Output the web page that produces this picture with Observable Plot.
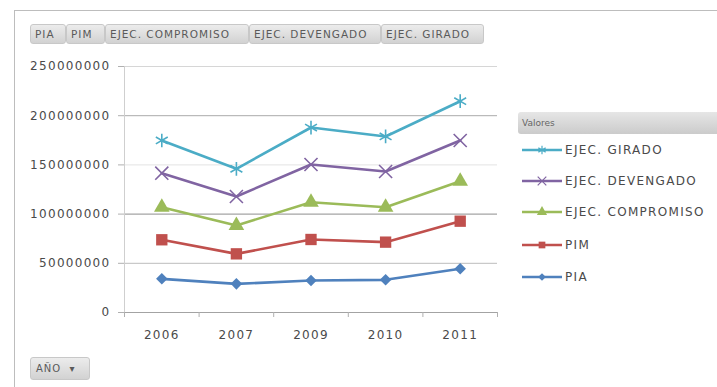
<!DOCTYPE html>
<html><head><meta charset="utf-8">
<script src="https://cdn.jsdelivr.net/npm/d3@7"></script>
<script src="https://cdn.jsdelivr.net/npm/@observablehq/plot@0.6"></script>
<style>
body{margin:0;background:#fff;}
#wrap{position:relative;width:717px;height:387px;overflow:hidden;font-family:"DejaVu Sans",sans-serif;color:#4a4a4a;}
#frame{position:absolute;left:14px;top:10px;width:760px;height:420px;border-left:1px solid #bdbdbd;border-top:1px solid #bdbdbd;}
#chart{position:absolute;left:0;top:0;}
.btn{position:absolute;top:24px;height:20px;box-sizing:border-box;border:1px solid #c8c8c8;border-radius:3px;
 background:linear-gradient(#ececec,#d2d2d2);font-size:10.5px;letter-spacing:1px;line-height:18px;padding-left:4px;white-space:nowrap;color:#5a5a5a;}
#legHead{position:absolute;left:518px;top:112px;width:210px;height:22px;border-radius:3px;background:linear-gradient(#e6e6e6,#cbcbcb);
 font-size:9px;line-height:22px;padding-left:4px;box-sizing:border-box;color:#666;}
.leg{position:absolute;left:522px;height:16px;display:flex;align-items:center;font-size:12px;letter-spacing:1.3px;white-space:nowrap;color:#4a4a4a;}
.leg svg{margin-right:3px;}
#ano{position:absolute;left:30px;top:357px;width:60px;height:23px;box-sizing:border-box;border:1px solid #c8c8c8;border-radius:3px;
 background:linear-gradient(#ececec,#d2d2d2);font-size:10px;letter-spacing:1px;line-height:21px;padding-left:5px;color:#5a5a5a;}
</style></head>
<body><div id="wrap"><div id="frame"></div><div id="chart"></div></div>
<script>
// ---- data ----
const years = ["2006", "2007", "2009", "2010", "2011"];
const seriesNames = ["PIA", "PIM", "EJEC. COMPROMISO", "EJEC. DEVENGADO", "EJEC. GIRADO"];
const pia        = [34200000, 29100000, 32500000, 33200000, 44400000];
const pim        = [73900000, 59600000, 74200000, 71500000, 92800000];
const compromiso = [107000000, 88400000, 112100000, 107000000, 133400000];
const devengado  = [141600000, 117900000, 150400000, 143300000, 174800000];
const girado     = [174800000, 146000000, 188000000, 178900000, 214700000];
const yTicks = [0, 50000000, 100000000, 150000000, 200000000, 250000000];
const legendOrder = ["EJEC. GIRADO", "EJEC. DEVENGADO", "EJEC. COMPROMISO", "PIM", "PIA"];

// ---- styles ----
const valuesByName = {"PIA": pia, "PIM": pim, "EJEC. COMPROMISO": compromiso, "EJEC. DEVENGADO": devengado, "EJEC. GIRADO": girado};
const style = {
  "PIA": {color: "#4F81BD", symbol: "square", rotate: 45, filled: true, r: 4.6},
  "PIM": {color: "#C0504D", symbol: "square", rotate: 0, filled: true, r: 6.4},
  "EJEC. COMPROMISO": {color: "#9BBB59", symbol: "triangle", rotate: 0, filled: true, r: 5.8},
  "EJEC. DEVENGADO": {color: "#8064A2", symbol: "times", rotate: 0, filled: false, r: 6},
  "EJEC. GIRADO": {color: "#4BACC6", symbol: "asterisk", rotate: 0, filled: false, r: 6.5}
};
const gridShade = {0: "#a3a3a3", 50000000: "#bcbcbc", 100000000: "#8e8e8e", 150000000: "#e3e3e3", 200000000: "#ababab", 250000000: "#d6d6d6"};

const idx = years.map((_, i) => i);
const edges = years.map((_, i) => i - 0.5).concat([years.length - 0.5]);

const marks = [];
yTicks.forEach(t => marks.push(Plot.ruleY([t], {stroke: gridShade[t], strokeWidth: 1})));
marks.push(Plot.ruleX([-0.5], {stroke: "#cfcfcf"}));
marks.push(Plot.axisY({ticks: yTicks, tickSize: 6, tickPadding: 8, tickFormat: d => String(d), stroke: "#b0b0b0", fill: "#4a4a4a", label: null}));
marks.push(Plot.axisX({ticks: edges, tickSize: 5, tickFormat: () => "", stroke: "#b0b0b0", label: null}));
marks.push(Plot.axisX({ticks: idx, tickSize: 0, tickPadding: 18, tickFormat: i => years[i], fill: "#4a4a4a", label: null}));
seriesNames.forEach(name => {
  const vals = valuesByName[name];
  const s = style[name];
  marks.push(Plot.line(vals, {x: (d, i) => i, y: d => d, stroke: s.color, strokeWidth: 2.6}));
  marks.push(Plot.dot(vals, s.filled
    ? {x: (d, i) => i, y: d => d, symbol: s.symbol, rotate: s.rotate, r: s.r, fill: s.color, stroke: "none"}
    : {x: (d, i) => i, y: d => d, symbol: s.symbol, rotate: s.rotate, r: s.r, fill: "none", stroke: s.color, strokeWidth: 1.6}));
});

const chart = Plot.plot({
  width: 717, height: 387,
  marginLeft: 124, marginRight: 220, marginTop: 66, marginBottom: 75,
  x: {type: "linear", domain: [-0.5, years.length - 0.5], axis: null},
  y: {domain: [0, 250000000], axis: null},
  style: {fontFamily: "DejaVu Sans", fontSize: "12px", letterSpacing: "1.3px", background: "transparent", overflow: "visible"},
  marks
});
document.getElementById("chart").appendChild(chart);

// ---- field buttons ----
const wrap = document.getElementById("wrap");
const btnX = [[30, 36], [66, 39], [105, 144], [249, 132], [381, 103]];
seriesNames.forEach((n, i) => {
  const b = document.createElement("div");
  b.className = "btn";
  b.style.left = btnX[i][0] + "px";
  b.style.width = btnX[i][1] + "px";
  b.textContent = n;
  wrap.appendChild(b);
});
const head = document.createElement("div");
head.id = "legHead"; head.textContent = "Valores";
wrap.appendChild(head);

const symMap = {square: d3.symbolSquare, triangle: d3.symbolTriangle, times: d3.symbolTimes, asterisk: d3.symbolAsterisk};
const legY = [142, 173, 204, 237, 269];
legendOrder.forEach((n, i) => {
  const s = style[n];
  const d = document.createElement("div");
  d.className = "leg";
  d.style.top = legY[i] + "px";
  const path = d3.symbol(symMap[s.symbol], s.filled ? (s.rotate ? 30 : 45) : 50)();
  const fillAttr = s.filled ? `fill="${s.color}"` : `fill="none" stroke="${s.color}" stroke-width="1.2"`;
  d.innerHTML = `<svg width="40" height="16"><line x1="0" x2="40" y1="8" y2="8" stroke="${s.color}" stroke-width="2.4"/>` +
    `<path transform="translate(20,8) rotate(${s.rotate})" d="${path}" ${fillAttr}/></svg><span>${n}</span>`;
  wrap.appendChild(d);
});
const ano = document.createElement("div");
ano.id = "ano"; ano.innerHTML = "AÑO &nbsp;▾";
wrap.appendChild(ano);
</script></body></html>
